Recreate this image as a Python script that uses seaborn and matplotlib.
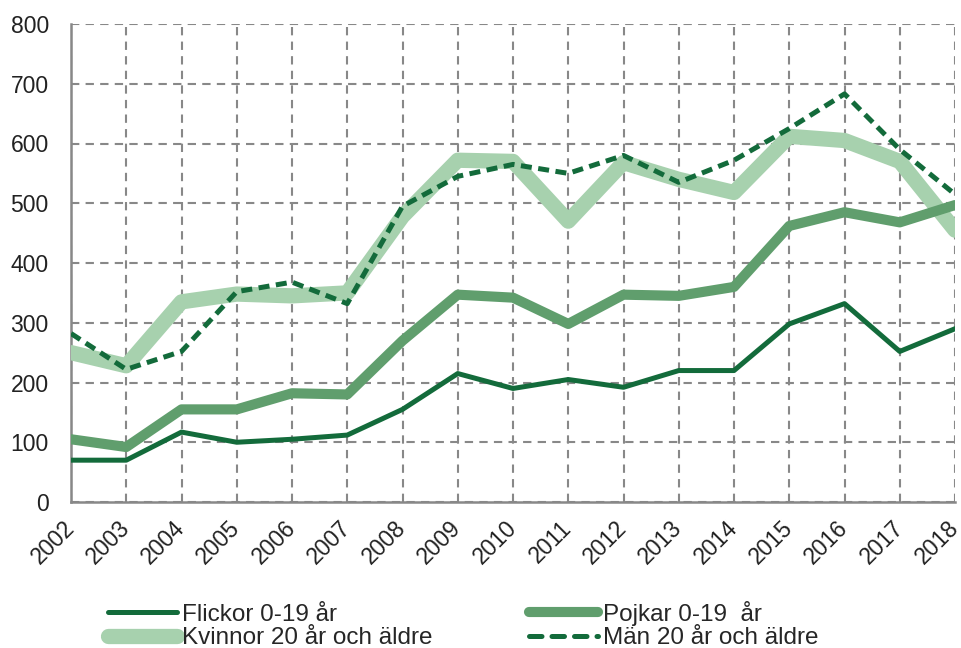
import matplotlib
matplotlib.use("Agg")
import matplotlib.pyplot as plt
import seaborn as sns
import pandas as pd
from matplotlib.lines import Line2D

years = list(range(2002, 2019))
flickor = [70, 70, 117, 100, 105, 112, 155, 215, 190, 205, 192, 220, 220, 298, 332, 252, 290]
pojkar = [105, 92, 155, 155, 182, 180, 270, 347, 342, 298, 347, 345, 360, 462, 485, 468, 497]
kvinnor = [250, 228, 335, 348, 345, 350, 478, 572, 570, 470, 568, 540, 518, 612, 605, 570, 455]
man = [282, 222, 252, 352, 368, 332, 495, 545, 565, 550, 580, 535, 572, 625, 683, 590, 515]

labels = ["Flickor 0-19 år", "Pojkar 0-19  år", "Kvinnor 20 år och äldre", "Män 20 år och äldre"]
yticks = [0, 100, 200, 300, 400, 500, 600, 700, 800]

sns.set_style("white")
plt.rcParams['font.family'] = ['Liberation Sans', 'DejaVu Sans']

dark = "#136B3B"
mid = "#609E6D"
light = "#A7D1AE"

fig = plt.figure(figsize=(9.62, 6.48), dpi=100)
ax = fig.add_axes([71/962, 1-502/648, (955-71)/962, (502-24)/648])

series = [
    (labels[2], kvinnor, light, 11, '-'),
    (labels[1], pojkar, mid, 7.3, '-'),
    (labels[0], flickor, dark, 3.6, '-'),
    (labels[3], man, dark, 3.6, '--'),
]
handles = {}
for name, vals, col, lw, ls in series:
    df = pd.DataFrame({"year": years, "value": vals})
    sns.lineplot(data=df, x="year", y="value", ax=ax, color=col, linewidth=lw, legend=False)
    line = ax.get_lines()[-1]
    if ls == '--':
        line.set_dashes((2.2, 1.3))
    h = Line2D([0], [0], color=col, linewidth=lw, solid_capstyle='round', dash_capstyle='round')
    if ls == '--':
        h.set_dashes((2.5, 2.0))
    handles[name] = h

ax.set_xlim(2002, 2018)
ax.set_ylim(0, 800)
ax.set_xticks(years)
ax.set_xticklabels([str(y) for y in years], rotation=45, ha='right', va='center',
                   rotation_mode='anchor')
ax.set_yticks(yticks)
ax.set_xlabel("")
ax.set_ylabel("")
ax.tick_params(axis='both', labelsize=16.5, labelcolor='#222222', length=0)
ax.tick_params(axis='y', length=6, color='#888888', width=1.5, pad=10)
ax.tick_params(axis='x', pad=16)
ax.grid(True, color='#888888', linestyle=(0, (4, 3)), linewidth=1.5)
ax.set_axisbelow(True)
for s in ['top', 'right']:
    ax.spines[s].set_visible(False)
for s in ['left', 'bottom']:
    ax.spines[s].set_color('#888888')
    ax.spines[s].set_linewidth(1.8)
    ax.spines[s].set_zorder(0.5)

order = [labels[0], labels[2], labels[1], labels[3]]
fig.legend([handles[n] for n in order], order, ncol=2, frameon=False,
           loc='upper left', bbox_to_anchor=(108/962, 1-601/648), fontsize=17.5,
           handlelength=2.85, handletextpad=0.2, columnspacing=3.95,
           labelspacing=0.05, borderaxespad=0, borderpad=0)

fig.savefig("out.png", dpi=100)
